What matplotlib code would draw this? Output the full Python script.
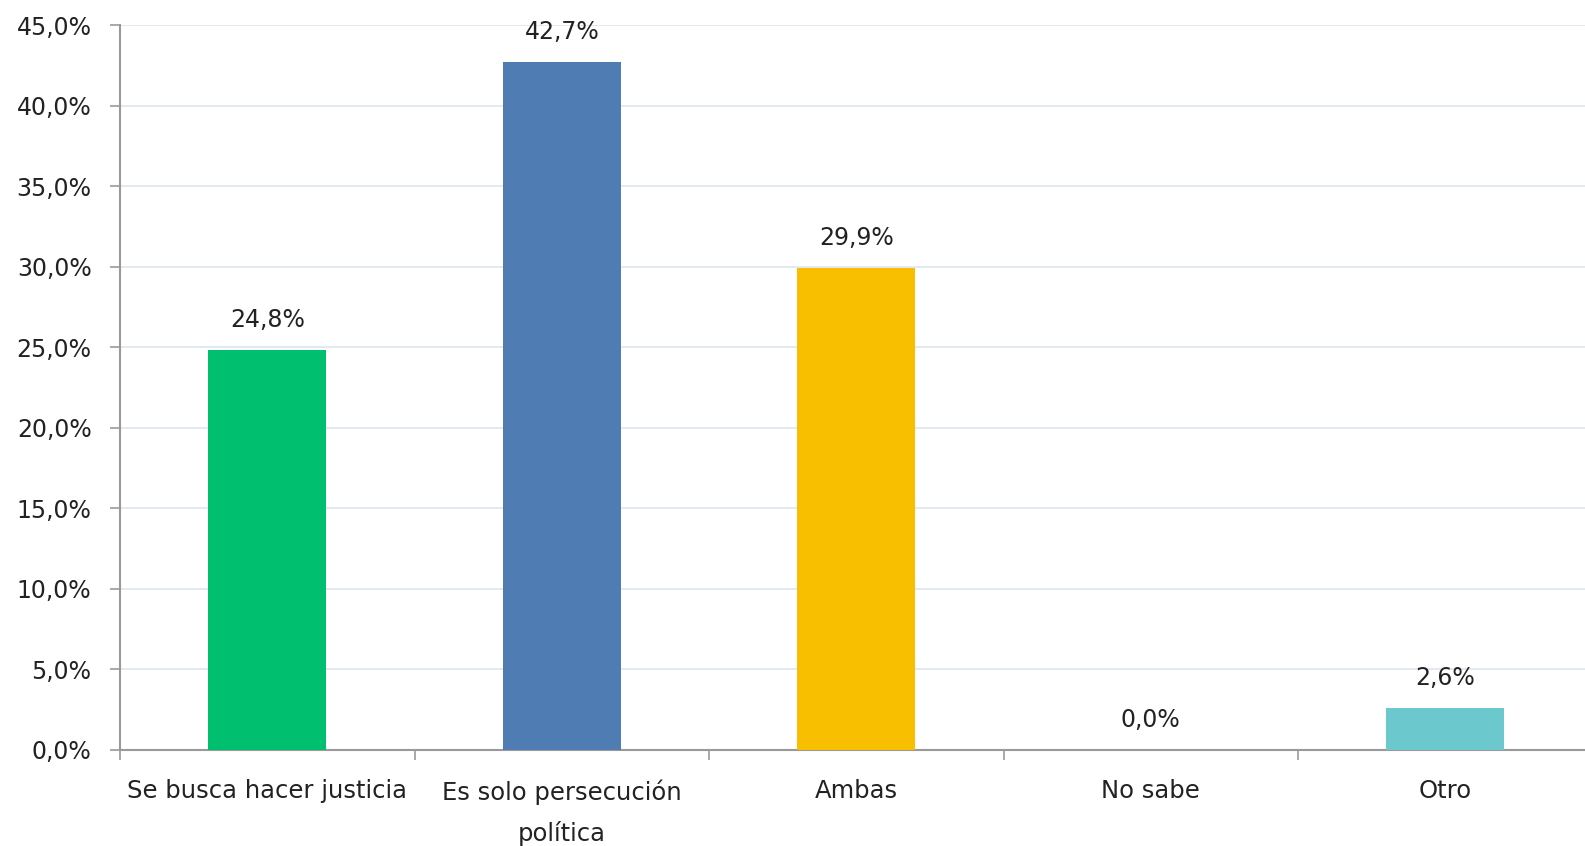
import numpy as np
import matplotlib.pyplot as plt

categorias = ["Se busca hacer justicia", "Es solo persecución\npolítica", "Ambas", "No sabe", "Otro"]
valores = [24.8, 42.7, 29.9, 0.0, 2.6]
colores = ["#00bf6f", "#4f7db3", "#f8bf00", "#4f7db3", "#6bc8cc"]
yticks = [0, 5, 10, 15, 20, 25, 30, 35, 40, 45]


def fmt(v):
    return f"{v:.1f}".replace(".", ",") + "%"


fig = plt.figure(figsize=(15.85, 8.46), dpi=100)
ax = fig.add_axes([120 / 1585, 1 - 750 / 846, 1 - 120 / 1585, (750 - 25) / 846])

x = np.arange(len(categorias))
bars = ax.bar(x, valores, width=0.4, color=colores, zorder=3)

for xi, v in zip(x, valores):
    ax.annotate(fmt(v), (xi, v), xytext=(0, 13), textcoords="offset points",
                ha="center", va="bottom", fontsize=17, color="#222222")

ax.set_xlim(-0.5, -0.5 + (1585 - 120) / 294.5)
ax.set_ylim(0, 45)
ax.set_yticks(yticks)
ax.set_yticklabels([fmt(v) for v in yticks], fontsize=17, color="#222222")
ax.yaxis.grid(True, color="#dde5ef", linewidth=1.2, zorder=0)
ax.set_axisbelow(True)

ax.set_xticks(x)
ax.set_xticklabels(categorias, fontsize=17.5, color="#222222", linespacing=1.8, va="top")
ax.tick_params(axis="x", length=0, pad=21)
ax.set_xticks(np.arange(len(categorias)) - 0.5, minor=True)
ax.tick_params(axis="x", which="minor", length=7, color="#999999", width=1.2)
ax.tick_params(axis="y", length=7, color="#999999", width=1.2, pad=13.5)

for s in ["top", "right"]:
    ax.spines[s].set_visible(False)
for s in ["left", "bottom"]:
    ax.spines[s].set_color("#999999")
    ax.spines[s].set_linewidth(1.5)

fig.savefig("out.png", dpi=100)
